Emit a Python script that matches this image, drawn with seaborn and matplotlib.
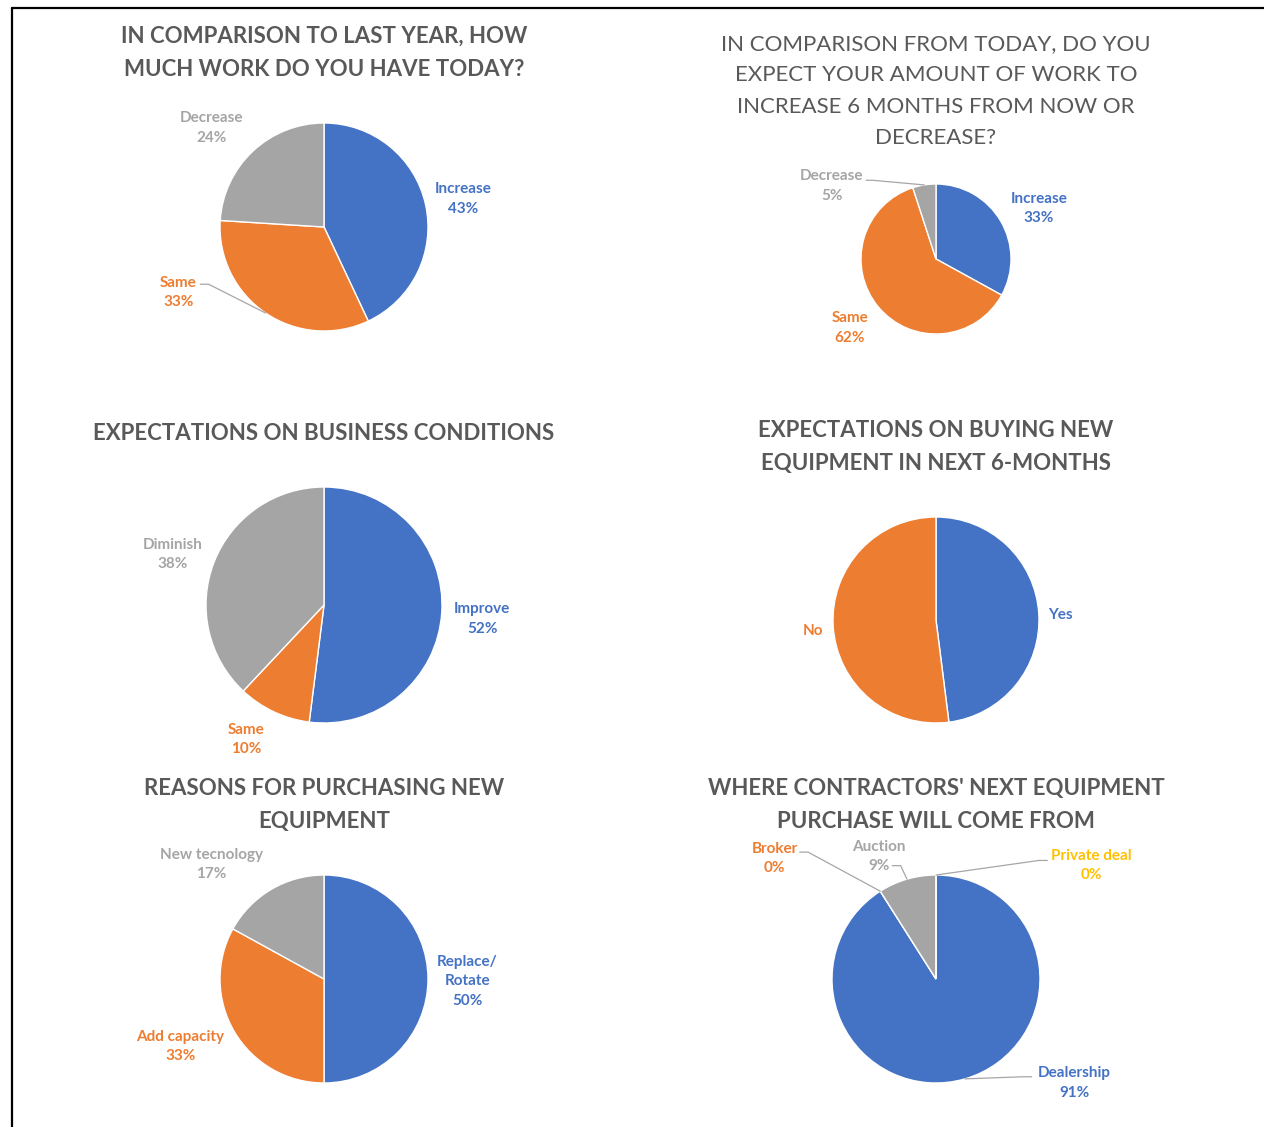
import numpy as np
import matplotlib
matplotlib.use("Agg")
import matplotlib.pyplot as plt
from matplotlib.lines import Line2D
import seaborn as sns

sns.set_theme(style="white")
plt.rcParams['font.family'] = ['Lato', 'DejaVu Sans']

BLUE, ORANGE, GRAY, YELLOW = "#4472C4", "#ED7D31", "#A5A5A5", "#FFC000"
TITLE_COLOR = "#595959"

# ---- data ----
work_today_labels = ["Increase", "Same", "Decrease"]
work_today_values = [43, 33, 24]

work_6m_labels = ["Increase", "Same", "Decrease"]
work_6m_values = [33, 62, 5]

business_labels = ["Improve", "Same", "Diminish"]
business_values = [52, 10, 38]

buying_labels = ["Yes", "No"]
buying_values = [48, 52]

reasons_labels = ["Replace/\nRotate", "Add capacity", "New tecnology"]
reasons_values = [50, 33, 17]

source_labels = ["Dealership", "Broker", "Auction", "Private deal"]
source_values = [91, 0, 9, 0]

W, H = 1264, 1127

charts = [
    dict(title="IN COMPARISON TO LAST YEAR, HOW\nMUCH WORK DO YOU HAVE TODAY?", bold=True,
         title_y=53, labels=work_today_labels, values=work_today_values,
         colors=[BLUE, ORANGE, GRAY], center=(324, 227), r=104, pct=True,
         label_pos=[(1.34, 0.27), (-1.40, -0.63), (-1.08, 0.95)],
         leaders={1: (-1.19, -0.55)}),
    dict(title="IN COMPARISON FROM TODAY, DO YOU\nEXPECT YOUR AMOUNT OF WORK TO\nINCREASE 6 MONTHS FROM NOW OR\nDECREASE?",
         bold=False, title_y=91, labels=work_6m_labels, values=work_6m_values,
         colors=[BLUE, ORANGE, GRAY], center=(936, 259), r=75, pct=True,
         label_pos=[(1.37, 0.67), (-1.15, -0.92), (-1.39, 0.97)],
         leaders={2: (-0.93, 1.05)}),
    dict(title="EXPECTATIONS ON BUSINESS CONDITIONS", bold=True, title_y=433,
         labels=business_labels, values=business_values,
         colors=[BLUE, ORANGE, GRAY], center=(324, 605), r=118, pct=True,
         label_pos=[(1.34, -0.12), (-0.66, -1.14), (-1.28, 0.43)], leaders={}),
    dict(title="EXPECTATIONS ON BUYING NEW\nEQUIPMENT IN NEXT 6-MONTHS", bold=True, title_y=447,
         labels=buying_labels, values=buying_values,
         colors=[BLUE, ORANGE], center=(936, 620), r=103, pct=False,
         label_pos=[(1.21, 0.05), (-1.19, -0.11)], leaders={}),
    dict(title="REASONS FOR PURCHASING NEW\nEQUIPMENT", bold=True, title_y=805,
         labels=reasons_labels, values=reasons_values,
         colors=[BLUE, ORANGE, GRAY], center=(324, 979), r=104, pct=True,
         label_pos=[(1.38, -0.02), (-1.38, -0.65), (-1.08, 1.10)], leaders={}),
    dict(title="WHERE CONTRACTORS' NEXT EQUIPMENT\nPURCHASE WILL COME FROM", bold=True, title_y=805,
         labels=source_labels, values=source_values,
         colors=[BLUE, ORANGE, GRAY, YELLOW], center=(936, 979), r=104, pct=True,
         label_pos=[(1.33, -1.0), (-1.55, 1.16), (-0.55, 1.18), (1.49, 1.09)],
         leaders={0: (0.92, -0.94), 1: (-1.31, 1.22), 2: (-0.42, 1.09), 3: (1.07, 1.14)}),
]

fig = plt.figure(figsize=(W / 100, H / 100), dpi=100)

for ch in charts:
    cx, cy = ch["center"]
    r = ch["r"]
    ax = fig.add_axes([(cx - r) / W, 1 - (cy + r) / H, 2 * r / W, 2 * r / H])
    ax.pie(ch["values"], colors=ch["colors"], startangle=90, counterclock=False,
           radius=1, wedgeprops=dict(edgecolor="white", linewidth=1))
    ax.set_xlim(-1, 1)
    ax.set_ylim(-1, 1)
    ax.axis("off")

    total = sum(ch["values"])
    start = 90.0
    for i, (lab, val) in enumerate(zip(ch["labels"], ch["values"])):
        span = 360.0 * val / total
        mid = np.deg2rad(start - span / 2)
        start -= span
        txt = f"{lab}\n{val}%" if ch["pct"] else lab
        lx, ly = ch["label_pos"][i]
        ax.text(lx, ly, txt, ha="center", va="center", fontsize=11, fontweight="bold",
                color=ch["colors"][i], linespacing=1.5, clip_on=False)
        if i in ch["leaders"]:
            sx, sy = ch["leaders"][i]
            ex, ey = np.cos(mid), np.sin(mid)
            hx = sx + (0.08 if ex > sx else -0.08)
            ax.plot([sx, hx, ex], [sy, sy, ey], color="#A6A6A6", lw=0.9, clip_on=False)

    fig.text(cx / W, 1 - ch["title_y"] / H, ch["title"], ha="center", va="center",
             fontsize=16, fontweight="bold" if ch["bold"] else "normal",
             color=TITLE_COLOR, linespacing=1.72)

# frame lines on left and top
fig.add_artist(Line2D([12 / W, 12 / W], [0, 1 - 8 / H], color="black", lw=1.6))
fig.add_artist(Line2D([12 / W, 1], [1 - 8 / H, 1 - 8 / H], color="black", lw=1.6))

fig.savefig("out.png", dpi=100)
